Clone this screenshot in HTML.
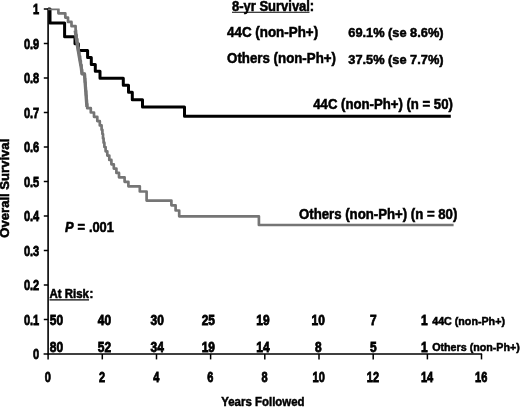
<!DOCTYPE html>
<html><head><meta charset="utf-8"><title>Overall Survival</title>
<style>
html,body{margin:0;padding:0;background:#fff;}
svg{display:block;}
text{font-family:"Liberation Sans",sans-serif;font-weight:bold;fill:#000;stroke:#000;stroke-width:0.5px;}
.tk{stroke-width:0.8px;}
.tk2{stroke-width:0.55px;}
</style></head><body>
<svg width="520" height="407" viewBox="0 0 520 407">
<defs><clipPath id="cp"><rect x="48" y="8.4" width="420" height="300"/></clipPath></defs>
<rect width="520" height="407" fill="#fff"/>

<path d="M48.1 8.5V354.5" stroke="#000" stroke-width="1.6" fill="none"/>
<path d="M43.6 354.0H482.1" stroke="#000" stroke-width="1.5" fill="none"/>
<text transform="translate(39.2,359.0) scale(0.76,1.0)" font-size="14.5" text-anchor="end" class="tk">0</text>
<path d="M43.8 319.5H48.1" stroke="#000" stroke-width="1.5"/>
<text transform="translate(39.2,324.5) scale(0.76,1.0)" font-size="14.5" text-anchor="end" class="tk">0.1</text>
<path d="M43.8 285.0H48.1" stroke="#000" stroke-width="1.5"/>
<text transform="translate(39.2,290.0) scale(0.76,1.0)" font-size="14.5" text-anchor="end" class="tk">0.2</text>
<path d="M43.8 250.5H48.1" stroke="#000" stroke-width="1.5"/>
<text transform="translate(39.2,255.5) scale(0.76,1.0)" font-size="14.5" text-anchor="end" class="tk">0.3</text>
<path d="M43.8 216.0H48.1" stroke="#000" stroke-width="1.5"/>
<text transform="translate(39.2,221.0) scale(0.76,1.0)" font-size="14.5" text-anchor="end" class="tk">0.4</text>
<path d="M43.8 181.5H48.1" stroke="#000" stroke-width="1.5"/>
<text transform="translate(39.2,186.5) scale(0.76,1.0)" font-size="14.5" text-anchor="end" class="tk">0.5</text>
<path d="M43.8 147.0H48.1" stroke="#000" stroke-width="1.5"/>
<text transform="translate(39.2,152.0) scale(0.76,1.0)" font-size="14.5" text-anchor="end" class="tk">0.6</text>
<path d="M43.8 112.5H48.1" stroke="#000" stroke-width="1.5"/>
<text transform="translate(39.2,117.5) scale(0.76,1.0)" font-size="14.5" text-anchor="end" class="tk">0.7</text>
<path d="M43.8 78.0H48.1" stroke="#000" stroke-width="1.5"/>
<text transform="translate(39.2,83.0) scale(0.76,1.0)" font-size="14.5" text-anchor="end" class="tk">0.8</text>
<path d="M43.8 43.5H48.1" stroke="#000" stroke-width="1.5"/>
<text transform="translate(39.2,48.5) scale(0.76,1.0)" font-size="14.5" text-anchor="end" class="tk">0.9</text>
<path d="M43.8 9.0H48.1" stroke="#000" stroke-width="1.5"/>
<text transform="translate(39.2,14.0) scale(0.76,1.0)" font-size="14.5" text-anchor="end" class="tk">1</text>
<path d="M48.1 354.0V359.4" stroke="#000" stroke-width="1.5"/>
<text transform="translate(47.8,381.5) scale(0.76,1.0)" font-size="14.5" text-anchor="middle" class="tk">0</text>
<path d="M102.3 354.0V359.4" stroke="#000" stroke-width="1.5"/>
<text transform="translate(102.0,381.5) scale(0.76,1.0)" font-size="14.5" text-anchor="middle" class="tk">2</text>
<path d="M156.5 354.0V359.4" stroke="#000" stroke-width="1.5"/>
<text transform="translate(156.2,381.5) scale(0.76,1.0)" font-size="14.5" text-anchor="middle" class="tk">4</text>
<path d="M210.6 354.0V359.4" stroke="#000" stroke-width="1.5"/>
<text transform="translate(210.3,381.5) scale(0.76,1.0)" font-size="14.5" text-anchor="middle" class="tk">6</text>
<path d="M264.8 354.0V359.4" stroke="#000" stroke-width="1.5"/>
<text transform="translate(264.5,381.5) scale(0.76,1.0)" font-size="14.5" text-anchor="middle" class="tk">8</text>
<path d="M319.0 354.0V359.4" stroke="#000" stroke-width="1.5"/>
<text transform="translate(318.7,381.5) scale(0.76,1.0)" font-size="14.5" text-anchor="middle" class="tk">10</text>
<path d="M373.2 354.0V359.4" stroke="#000" stroke-width="1.5"/>
<text transform="translate(372.9,381.5) scale(0.76,1.0)" font-size="14.5" text-anchor="middle" class="tk">12</text>
<path d="M427.4 354.0V359.4" stroke="#000" stroke-width="1.5"/>
<text transform="translate(427.1,381.5) scale(0.76,1.0)" font-size="14.5" text-anchor="middle" class="tk">14</text>
<path d="M481.5 354.0V359.4" stroke="#000" stroke-width="1.5"/>
<text transform="translate(481.2,381.5) scale(0.76,1.0)" font-size="14.5" text-anchor="middle" class="tk">16</text>
<text transform="translate(262.9,406.3) scale(0.868,1.0)" font-size="13.2" text-anchor="middle">Years Followed</text>
<text transform="translate(8.7,188.2) rotate(-90)" font-size="13.1" class="tk2" text-anchor="middle">Overall Survival</text>
<path d="M48.1 9.0H50.0V23.0H64.6V36.8H75.0V43.7H78.4V50.6H87.6V57.5H91.3V64.4H95.3V71.3H100.0V78.2H123.3V85.3H128.5V92.3H132.3V99.8H142.5V107.1H184.5V116.2H450.8" stroke="#000" stroke-width="3.0" fill="none" stroke-linejoin="round"/>
<path d="M48.1 9.0H58.4V13.3H65.3V17.6H68.0V21.9H71.5V26.2H75.6V30.6H76.0V34.9H76.6V39.2H77.3V43.5H77.9V47.8H78.6V52.1H79.3V56.4H80.1V60.8H80.8V65.1H81.5V69.4H82.0V73.9H84.7V78.0H85.0V82.3H85.4V86.6H85.7V90.9H86.1V95.3H86.4V99.6H86.8V103.9H87.2V108.2H90.8V112.5H94.0V116.8H97.3V121.1H99.8V125.4H101.6V129.8H102.4V134.1H103.0V138.4H103.6V142.7H104.4V147.0H105.6V151.3H107.3V155.6H109.3V159.9H111.4V164.3H113.8V168.6H116.4V172.9H119.0V177.3H124.6V181.8H128.4V186.3H139.8V191.5H146.6V200.6H171.4V205.3H175.6V210.5H179.2V216.3H258.9V225.0H453.6" stroke="#757575" stroke-width="2.7" fill="none" stroke-linejoin="round" clip-path="url(#cp)"/>
<path d="M75.2 30.6L76.2 38L77.8 48L79.5 58L81.3 68L82.0 73.9H84.5L86.9 107" stroke="#757575" stroke-width="3.3" fill="none" stroke-linejoin="round"/>
<text transform="translate(232.0,10.5) scale(1.0,1.06)" font-size="13.0" text-anchor="start">8-yr Survival</text>
<path d="M232 12.2H309.5" stroke="#000" stroke-width="1.1"/>
<text transform="translate(309.8,10.5) scale(1.0,1.06)" font-size="13.0" text-anchor="start">:</text>
<text transform="translate(227.0,37.1) scale(1.0,1.06)" font-size="13.4" text-anchor="start">44C (non-Ph+)</text>
<text transform="translate(348.3,37.1) scale(1.0,1.06)" font-size="12.8" text-anchor="start">69.1% (se 8.6%)</text>
<text transform="translate(227.1,63.3) scale(1.0,1.06)" font-size="13.3" text-anchor="start">Others (non-Ph+)</text>
<text transform="translate(348.3,63.5) scale(1.0,1.06)" font-size="12.8" text-anchor="start">37.5% (se 7.7%)</text>
<text transform="translate(313.3,108.5) scale(1.0,1.06)" font-size="13.16" text-anchor="start">44C (non-Ph+) (n = 50)</text>
<text transform="translate(299.0,218.6) scale(1.0,1.06)" font-size="13.2" text-anchor="start">Others (non-Ph+) (n = 80)</text>
<text transform="translate(65.0,231.5) scale(1,1.08)" font-size="12.9" word-spacing="0.3"><tspan font-style="italic">P</tspan> = .001</text>
<text transform="translate(49.5,298.0) scale(0.893,1.06)" font-size="12.8" text-anchor="start" class="tk2">At Risk</text>
<text transform="translate(89.4,298.0) scale(0.893,1.06)" font-size="12.8" text-anchor="start" class="tk2">:</text>
<path d="M49.5 299.9H89" stroke="#000" stroke-width="1.2"/>
<text transform="translate(56.5,325.0) scale(0.83,1.0)" font-size="14.4" text-anchor="middle" class="tk">50</text>
<text transform="translate(56.5,351.6) scale(0.83,1.0)" font-size="14.4" text-anchor="middle" class="tk">80</text>
<text transform="translate(104.5,325.0) scale(0.83,1.0)" font-size="14.4" text-anchor="middle" class="tk">40</text>
<text transform="translate(104.5,351.6) scale(0.83,1.0)" font-size="14.4" text-anchor="middle" class="tk">52</text>
<text transform="translate(157.2,325.0) scale(0.83,1.0)" font-size="14.4" text-anchor="middle" class="tk">30</text>
<text transform="translate(157.2,351.6) scale(0.83,1.0)" font-size="14.4" text-anchor="middle" class="tk">34</text>
<text transform="translate(208.3,325.0) scale(0.83,1.0)" font-size="14.4" text-anchor="middle" class="tk">25</text>
<text transform="translate(208.3,351.6) scale(0.83,1.0)" font-size="14.4" text-anchor="middle" class="tk">19</text>
<text transform="translate(263.0,325.0) scale(0.83,1.0)" font-size="14.4" text-anchor="middle" class="tk">19</text>
<text transform="translate(263.0,351.6) scale(0.83,1.0)" font-size="14.4" text-anchor="middle" class="tk">14</text>
<text transform="translate(318.2,325.0) scale(0.83,1.0)" font-size="14.4" text-anchor="middle" class="tk">10</text>
<text transform="translate(318.2,351.6) scale(0.83,1.0)" font-size="14.4" text-anchor="middle" class="tk">8</text>
<text transform="translate(373.4,325.0) scale(0.83,1.0)" font-size="14.4" text-anchor="middle" class="tk">7</text>
<text transform="translate(373.4,351.6) scale(0.83,1.0)" font-size="14.4" text-anchor="middle" class="tk">5</text>
<text transform="translate(424.2,325.0) scale(0.83,1.0)" font-size="14.4" text-anchor="middle" class="tk">1</text>
<text transform="translate(424.2,351.6) scale(0.83,1.0)" font-size="14.4" text-anchor="middle" class="tk">1</text>
<text transform="translate(432.2,325.0) scale(1.0,1.06)" font-size="10.7" text-anchor="start">44C (non-Ph+)</text>
<text transform="translate(432.2,351.3) scale(1.0,1.06)" font-size="10.7" text-anchor="start">Others (non-Ph+)</text>
</svg></body></html>
